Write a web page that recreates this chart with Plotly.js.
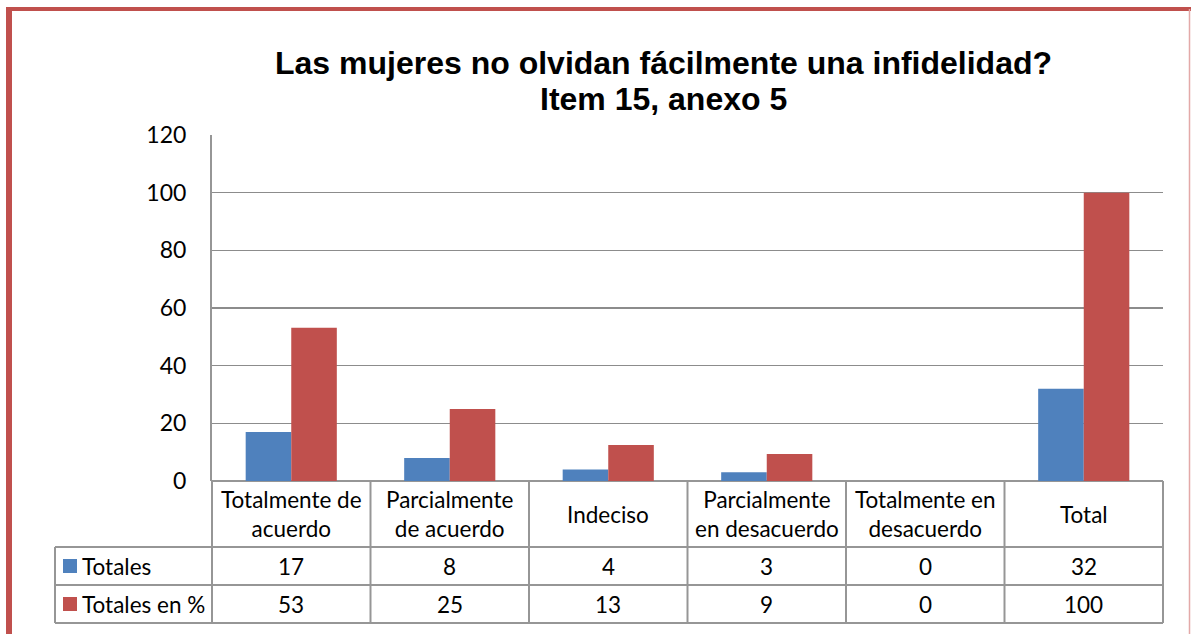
<!DOCTYPE html>
<html><head><meta charset="utf-8">
<script src="https://cdn.plot.ly/plotly-3.0.1.min.js"></script>
<style>html,body{margin:0;padding:0;background:#fff;}#chart{width:1191px;height:634px;}</style>
</head><body><div id="chart"></div>
<script>
const categories = ["Totalmente de acuerdo","Parcialmente de acuerdo","Indeciso","Parcialmente en desacuerdo","Totalmente en desacuerdo","Total"];
const categoryLabels = ["Totalmente de<br>acuerdo","Parcialmente<br>de acuerdo","Indeciso","Parcialmente<br>en desacuerdo","Totalmente en<br>desacuerdo","Total"];
const totales = [17, 8, 4, 3, 0, 32];
const totalesPct = [53.125, 25, 12.5, 9.375, 0, 100];
const seriesNames = ["Totales", "Totales en %"];
const yTicks = [0, 20, 40, 60, 80, 100, 120];
const titleLines = ["Las mujeres no olvidan fácilmente una infidelidad?", "Item 15, anexo 5"];

const W = 1191, H = 634;
const L = 212, R = 1163, T = 135, B = 481;
const px = x => (x - L) / (R - L);
const py = y => (B - y) / (B - T);
const FONT = "Lato, 'Open Sans', sans-serif";
const blue = "#4F81BD", red = "#C0504D", grid = "#8c8c8c", tbl = "#969696";

const traces = [
  {type:"bar", x:categories, y:totales, name:seriesNames[0], marker:{color:blue}},
  {type:"bar", x:categories, y:totalesPct, name:seriesNames[1], marker:{color:red}}
];

const shapes = [];
function line(x0,y0,x1,y1,color,width){
  shapes.push({type:"line", xref:"paper", yref:"paper", x0:px(x0), y0:py(y0), x1:px(x1), y1:py(y1), line:{color:color, width:width}, layer:"above"});
}
const colX = [212, 370.5, 529, 687.5, 846, 1004.5, 1163];
line(55,547,1163,547,tbl,2);
line(55,585,1163,585,tbl,2);
line(55,623,1163,623,tbl,2);
line(55,547,55,623,tbl,2);
colX.forEach(x => line(x,481,x,623,tbl,2));
// frame
line(9,9,9,634,red,6);
line(6,9,1191,9,red,4);
line(1189.5,9,1189.5,634,"#e3a9a8",1.5);
[[566,blue],[604,red]].forEach(([cy,c]) => {
  shapes.push({type:"rect", xref:"paper", yref:"paper", x0:px(63), x1:px(77), y0:py(cy-7), y1:py(cy+7), fillcolor:c, line:{width:0}, layer:"above"});
});

const annotations = [];
const tf = {family:FONT, size:22.5, color:"#000"};
categories.forEach((c,i) => {
  annotations.push({xref:"x", yref:"paper", x:c, y:py(514), text:categoryLabels[i], showarrow:false, font:tf, xanchor:"center", yanchor:"middle"});
  annotations.push({xref:"x", yref:"paper", x:c, y:py(566), text:String(totales[i]), showarrow:false, font:tf, xanchor:"center", yanchor:"middle"});
  annotations.push({xref:"x", yref:"paper", x:c, y:py(604), text:String(Math.round(totalesPct[i])), showarrow:false, font:tf, xanchor:"center", yanchor:"middle"});
});
annotations.push({xref:"paper", yref:"paper", x:px(80), y:py(566), text:seriesNames[0], showarrow:false, font:tf, xanchor:"left", yanchor:"middle"});
annotations.push({xref:"paper", yref:"paper", x:px(80), y:py(604), text:seriesNames[1], showarrow:false, font:tf, xanchor:"left", yanchor:"middle"});
const titleFont = {family:"'Liberation Sans', Arial, sans-serif", size:32, color:"#000", weight:"bold"};
annotations.push({xref:"paper", yref:"paper", x:px(663.5), y:py(63), text:titleLines[0], showarrow:false, font:titleFont, xanchor:"center", yanchor:"middle"});
annotations.push({xref:"paper", yref:"paper", x:px(663.5), y:py(99), text:titleLines[1], showarrow:false, font:titleFont, xanchor:"center", yanchor:"middle"});

const layout = {
  width:W, height:H,
  margin:{l:L, r:W-R, t:T, b:H-B, pad:0},
  paper_bgcolor:"#fff", plot_bgcolor:"#fff",
  showlegend:false,
  barmode:"group", bargap:0.425, bargroupgap:0,
  xaxis:{type:"category", showticklabels:false, showgrid:false, zeroline:false, showline:false, ticks:"", fixedrange:true},
  yaxis:{range:[0,120], tickvals:yTicks, ticktext:yTicks.map(String), showgrid:true, gridcolor:grid, gridwidth:1.5,
    zeroline:true, zerolinecolor:tbl, zerolinewidth:2, showline:true, linecolor:tbl, linewidth:2,
    ticks:"", ticklabelstandoff:19, tickfont:{family:FONT, size:23, color:"#000"}, fixedrange:true},
  shapes:shapes, annotations:annotations
};
Plotly.newPlot("chart", traces, layout, {displayModeBar:false, staticPlot:true});
</script></body></html>
